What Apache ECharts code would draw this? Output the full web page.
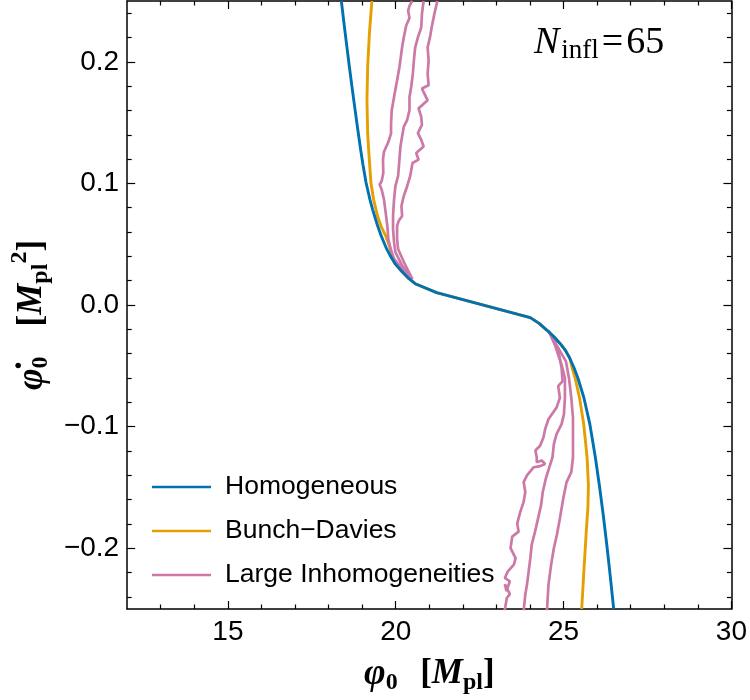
<!DOCTYPE html>
<html><head><meta charset="utf-8">
<script src="https://cdn.jsdelivr.net/npm/echarts@6/dist/echarts.min.js"></script>
<style>html,body{margin:0;padding:0;background:#fff}#c{width:750px;height:700px}</style>
</head><body><div id="c"></div>
<script>
// ---- axis ticks ----
const xMajorTicks = [15, 20, 25, 30];
const xMinorTicks = [13, 14, 16, 17, 18, 19, 21, 22, 23, 24, 26, 27, 28, 29];
const yMajorTicks = [-0.2, -0.1, 0, 0.1, 0.2];
const yMinorTicks = [-0.24, -0.22, -0.18, -0.16, -0.14, -0.12, -0.08, -0.06, -0.04, -0.02,
                     0.02, 0.04, 0.06, 0.08, 0.12, 0.14, 0.16, 0.18, 0.22, 0.24];

// ---- series data [phi0, phidot0] ----
const homogeneous = [
  [18.38, 0.25], [18.450, 0.2337], [18.533, 0.2149], [18.614, 0.1970], [18.699, 0.1790],
  [18.790, 0.1603], [18.859, 0.1464], [18.955, 0.1277], [19.024, 0.1154], [19.115, 0.1007],
  [19.230, 0.0869], [19.310, 0.0787], [19.445, 0.0664], [19.570, 0.0566], [19.730, 0.0461],
  [19.840, 0.0404], [19.985, 0.0338], [20.190, 0.0273], [20.395, 0.0216], [20.580, 0.0175],
  [21.219, 0.0102], [24.008, -0.0104], [24.272, -0.0151], [24.498, -0.0206], [24.698, -0.0257],
  [24.888, -0.0314], [25.050, -0.0371], [25.182, -0.0436], [25.314, -0.0518], [25.426, -0.0600],
  [25.605, -0.0763], [25.783, -0.0980], [25.946, -0.1252], [26.073, -0.1497], [26.188, -0.1741],
  [26.293, -0.1986], [26.391, -0.2231], [26.493, -0.25]
];
const bunchDavies = [
  [19.290, 0.25], [19.214, 0.2228], [19.164, 0.1956], [19.143, 0.1685], [19.164, 0.1413],
  [19.193, 0.1277], [19.261, 0.1005], [19.340, 0.0869], [19.457, 0.0732], [19.574, 0.0640],
  [19.701, 0.0569], [19.810, 0.0485], [19.900, 0.0400], [19.985, 0.0338], [20.190, 0.0273],
  [20.395, 0.0216], [20.580, 0.0175], [21.219, 0.0102], [24.008, -0.0104], [24.272, -0.0151],
  [24.498, -0.0206], [24.698, -0.0257], [24.888, -0.0314], [25.050, -0.0371], [25.182, -0.0436],
  [25.255, -0.0518], [25.343, -0.0600], [25.475, -0.0763], [25.600, -0.0980], [25.700, -0.1252],
  [25.740, -0.1483], [25.725, -0.1660], [25.670, -0.1890], [25.610, -0.2163], [25.54, -0.25]
];
const inhomTopA = [
  [20.49, 0.25], [20.41, 0.246], [20.37, 0.242], [20.41, 0.236], [20.31, 0.2296], [20.24, 0.22],
  [20.19, 0.212], [20.15, 0.2037], [20.11, 0.1956], [20.04, 0.1847], [19.95, 0.171], [19.88, 0.160],
  [19.86, 0.149], [19.86, 0.141], [19.78, 0.134], [19.65, 0.126], [19.62, 0.1195], [19.63, 0.1086],
  [19.58, 0.1018], [19.52, 0.0991], [19.58, 0.095], [19.65, 0.0869], [19.70, 0.076], [19.75, 0.0651],
  [19.78, 0.0542], [19.85, 0.0461], [19.95, 0.0379], [20.19, 0.0298], [20.45, 0.021]
];
const inhomTopB = [
  [20.83, 0.25], [20.78, 0.2392], [20.76, 0.2282], [20.66, 0.2201], [20.58, 0.2119], [20.54, 0.2010],
  [20.51, 0.1902], [20.46, 0.1793], [20.41, 0.1711], [20.41, 0.1603], [20.34, 0.1521], [20.24, 0.1467],
  [20.19, 0.1385], [20.14, 0.1303], [20.11, 0.1195], [20.07, 0.1059], [19.99, 0.0977], [19.95, 0.0869],
  [19.92, 0.0732], [19.92, 0.0624], [19.95, 0.0515], [19.99, 0.0434], [20.19, 0.0325], [20.45, 0.022]
];
const inhomTopC = [
  [21.24, 0.25], [21.15, 0.2392], [21.07, 0.2282], [21.02, 0.2201], [20.95, 0.2119], [20.98, 0.2010],
  [20.95, 0.1902], [20.98, 0.1807], [20.78, 0.1780], [20.90, 0.1711], [20.95, 0.1684], [20.68, 0.1617],
  [20.76, 0.1548], [20.78, 0.1481], [20.66, 0.1413], [20.76, 0.1358], [20.83, 0.1303], [20.61, 0.1250],
  [20.68, 0.1195], [20.50, 0.1168], [20.43, 0.1059], [20.34, 0.0977], [20.24, 0.0896], [20.17, 0.0814],
  [20.19, 0.0732], [20.09, 0.0692], [20.04, 0.0651], [20.04, 0.0542], [20.07, 0.0461], [20.29, 0.0325],
  [20.50, 0.021]
];
const inhomBotA = [
  [24.55, -0.021], [24.74, -0.0300], [24.87, -0.0409], [24.94, -0.0518], [24.97, -0.0626], [24.84, -0.0667],
  [24.89, -0.0763], [24.79, -0.0844], [24.65, -0.0899], [24.55, -0.0940], [24.45, -0.1021], [24.40, -0.1089],
  [24.30, -0.1157], [24.16, -0.1197], [24.20, -0.1252], [24.20, -0.1293], [24.35, -0.1279], [24.45, -0.1307],
  [24.30, -0.1325], [24.11, -0.1334], [23.91, -0.1401], [23.81, -0.1456], [23.86, -0.1538], [23.81, -0.1619],
  [23.71, -0.1701], [23.62, -0.1796], [23.66, -0.1864], [23.47, -0.1905], [23.42, -0.2000], [23.57, -0.2082],
  [23.52, -0.2135], [23.34, -0.2190], [23.25, -0.2245], [23.40, -0.2272], [23.30, -0.2353], [23.25, -0.2296],
  [23.40, -0.2378], [23.31, -0.2408], [23.26, -0.2489], [23.24, -0.2516]
];
const inhomBotB = [
  [24.55, -0.021], [24.74, -0.0328], [24.94, -0.0491], [25.04, -0.0600], [25.04, -0.0763], [25.01, -0.0899],
  [24.94, -0.0980], [24.79, -0.1062], [24.71, -0.1144], [24.67, -0.1252], [24.56, -0.1347], [24.47, -0.1429],
  [24.38, -0.1538], [24.33, -0.1646], [24.24, -0.1755], [24.15, -0.1864], [24.05, -0.1972], [24.01, -0.2082],
  [23.96, -0.2190], [23.91, -0.2299], [23.86, -0.2380], [23.82, -0.2489], [23.81, -0.2516]
];
const inhomBotC = [
  [24.55, -0.021], [24.79, -0.0328], [25.07, -0.0463], [25.16, -0.0600], [25.23, -0.0763], [25.28, -0.0926],
  [25.28, -0.1089], [25.28, -0.1252], [25.23, -0.1374], [25.09, -0.1456], [24.99, -0.1592], [24.89, -0.1755],
  [24.80, -0.1891], [24.71, -0.2000], [24.63, -0.2135], [24.55, -0.2299], [24.51, -0.2489], [24.50, -0.2516]
];
const inhomBranches = [inhomTopA, inhomTopB, inhomTopC, inhomBotA, inhomBotB, inhomBotC];

const seriesNames = ['Homogeneous', 'Bunch\u2212Davies', 'Large Inhomogeneities'];
const seriesColors = ['#0072B2', '#E69F00', '#CC79A7'];
const annotationValue = '65';

const SANS = 'Liberation Sans, Arial, sans-serif';
const SERIF = 'Liberation Serif, Times New Roman, serif';

const chart = echarts.init(document.getElementById('c'), null, {renderer: 'canvas'});

function mkLine(name, data, color, w) {
  return {type: 'line', name, data, symbol: 'none', showSymbol: false, clip: true,
          lineStyle: {color, width: w}, itemStyle: {color}, emphasis: {disabled: true}};
}

const frame = {color: '#000', width: 1.5};
const titleRich = {
  phi: {fontFamily: SERIF, fontStyle: 'italic', fontWeight: 'bold', fontSize: 37, color: '#000'},
  sub: {fontFamily: SERIF, fontWeight: 'bold', fontSize: 24, color: '#000', padding: [18, 0, 0, 0]},
  sp: {fontFamily: SERIF, fontSize: 30},
  br: {fontFamily: SERIF, fontWeight: 'bold', fontSize: 35, color: '#000'},
  M: {fontFamily: SERIF, fontStyle: 'italic', fontWeight: 'bold', fontSize: 35, color: '#000'},
  sup: {fontFamily: SERIF, fontWeight: 'bold', fontSize: 24, color: '#000', padding: [0, 0, 24, 0]},
  pad: {width: 20}
};

function xAx(pos, ticks, len, main) {
  return {type: 'value', min: 12, max: 30, position: pos,
    axisLine: {show: main, onZero: false, lineStyle: frame},
    axisTick: {show: true, inside: true, length: len, customValues: ticks, lineStyle: {color: '#000', width: 1.2}},
    axisLabel: main && pos === 'bottom' ? {show: true, customValues: xMajorTicks, margin: 9,
      fontFamily: SANS, fontSize: 28, color: '#000'} : {show: false},
    splitLine: {show: false},
    name: main && pos === 'bottom' ? '{phi|\u03C6}{sub|0}{sp|   }{br|[}{M|M}{sub|pl}{br|]}' : '',
    nameLocation: 'middle', nameGap: 44, nameTextStyle: {rich: titleRich}
  };
}
function yAx(pos, ticks, len, main) {
  return {type: 'value', min: -0.25, max: 0.25, position: pos,
    axisLine: {show: main, onZero: false, lineStyle: frame},
    axisTick: {show: true, inside: true, length: len, customValues: ticks, lineStyle: {color: '#000', width: 1.2}},
    axisLabel: main && pos === 'left' ? {show: true, customValues: yMajorTicks, margin: 8,
      fontFamily: SANS, fontSize: 28, color: '#000',
      formatter: v => v.toFixed(1).replace('-', '\u2212').replace(/^\u22120\.0$/, '0.0')} : {show: false},
    splitLine: {show: false},
    name: main && pos === 'left' ? '{phi|\u03C6\u0307}{sub|0}{sp|    }{br|[}{M|M}{sub|pl}{sup|2}{br|]}{pad|}' : '',
    nameLocation: 'middle', nameGap: 68, nameRotate: 90, nameTextStyle: {rich: titleRich}
  };
}

const series = [];
series.push(mkLine(seriesNames[1], bunchDavies, seriesColors[1], 2.9));
inhomBranches.forEach(b => series.push(mkLine(seriesNames[2], b, seriesColors[2], 2.7)));
series.push(mkLine(seriesNames[0], homogeneous, seriesColors[0], 2.9));

chart.setOption({
  animation: false,
  backgroundColor: '#fff',
  grid: {left: 120, top: 1, width: 615, height: 612, containLabel: false},
  xAxis: [xAx('bottom', xMajorTicks, 8, true), xAx('bottom', xMinorTicks, 4.5, false),
          xAx('top', xMajorTicks, 8, true), xAx('top', xMinorTicks, 4.5, false)],
  yAxis: [yAx('left', yMajorTicks, 8, true), yAx('left', yMinorTicks, 4.5, false),
          yAx('right', yMajorTicks, 8, true), yAx('right', yMinorTicks, 4.5, false)],
  legend: {
    data: seriesNames, orient: 'vertical', left: 147, top: 467,
    itemWidth: 59, itemHeight: 20, itemGap: 14, icon: 'path://M0,8.7L60,8.7L60,11.3L0,11.3Z',
    textStyle: {fontFamily: SANS, fontSize: 26.5, color: '#000', lineHeight: 30, padding: [0, 0, 0, 9]},
    selectedMode: false
  },
  graphic: [{
    type: 'text', left: 534, top: 24,
    style: {
      text: '{N|N}{sub|infl}{eq|=}{v|' + annotationValue + '}',
      rich: {
        N: {fontFamily: SERIF, fontStyle: 'italic', fontSize: 38, color: '#000'},
        sub: {fontFamily: SERIF, fontSize: 27, color: '#000', padding: [16, 0, 0, 2]},
        eq: {fontFamily: SERIF, fontSize: 38, color: '#000', padding: [0, 3, 0, 3]},
        v: {fontFamily: SERIF, fontSize: 38, color: '#000'}
      }
    }
  }],
  series
});
</script></body></html>
